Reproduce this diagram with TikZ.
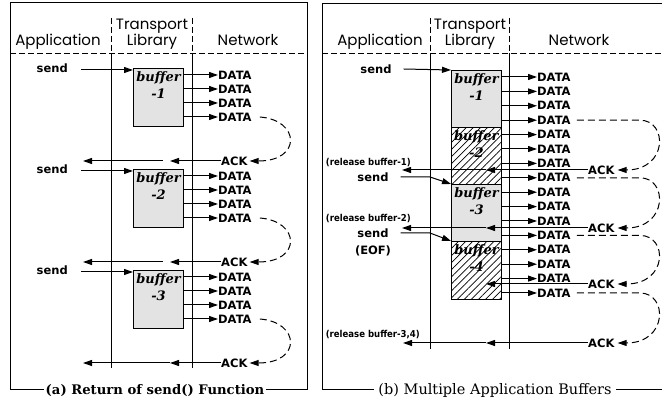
\documentclass[tikz,border=0pt]{standalone}
\usepackage{fontspec}
\usetikzlibrary{arrows.meta,patterns.meta,positioning}
\newfontfamily\hdrfont{Poppins}
\newfontfamily\lblfont{DejaVu Sans}
\newfontfamily\smallfont{DejaVu Sans Condensed}
\newfontfamily\capfont{DejaVu Serif}

\begin{document}
\begin{tikzpicture}[x=1pt,y=-1pt,
    hdr/.style={font=\hdrfont\fontsize{15}{15}\selectfont, inner sep=0pt, anchor=base},
    lbl/.style={font=\lblfont\bfseries\fontsize{11.5}{12}\selectfont, inner sep=0pt},
    rel/.style={font=\smallfont\bfseries\fontsize{9.5}{10}\selectfont, inner sep=0pt, anchor=east},
    buf/.style={draw, line width=1pt, fill=gray!22, minimum width=50pt, inner sep=0pt, anchor=north west},
    hbuf/.style={buf, pattern={Lines[angle=45,distance=5pt,line width=0.7pt]}},
    bufname/.style={font=\capfont\bfseries\itshape\fontsize{13}{17}\selectfont, align=center, inner sep=0pt},
    arr/.style={line width=1pt, -{Triangle[length=9pt,width=6pt]}},
    ret/.style={line width=1pt, dash pattern=on 7pt off 4pt, -{Triangle[length=9pt,width=6pt]}},
    divider/.style={line width=1pt},
    hdash/.style={line width=0.8pt, dash pattern=on 6pt off 3pt}
]
    \useasboundingbox (0,0) rectangle (662,403);

    % ---------------- (a) Return of send() Function ----------------
    % Frame and header
    \draw[line width=1pt] (10,3) rectangle (307,390);
    \node[hdr] (appA) at (58,46) {Application};
    \node[hdr] (trA) at (152,30) {Transport};
    \node[hdr] (libA) at (152,46) {Library};
    \node[hdr] (netA) at (248,46) {Network};
    \draw[hdash] (10,53) -- (307,53);
    \draw[hdash] (111,18) -- (111,53);
    \draw[hdash] (192,18) -- (192,53);
    \draw[divider] (111,53) -- (111,368);
    \draw[divider] (192,53) -- (192,368);

    % One buffer per send
    \foreach \i in {1,2,3}{
        \pgfmathsetmacro{\T}{68+101*(\i-1)}
        \pgfmathsetmacro{\gap}{\i==3 ? 0 : 7}
        \node[lbl, anchor=east] (sendA\i) at (68,\T) {send};
        \node[buf, minimum height=58pt] (bufA\i) at (133,\T) {};
        \node[bufname, below=3pt of bufA\i.north] {buffer\\-\i};
        \draw[arr] ([xshift=13pt,yshift=-2pt]sendA\i.east) -- ([yshift=-2pt]bufA\i.north west);
        % data packets
        \foreach \k in {1,...,4}{
            \node[lbl, anchor=west] (dA\i\k) at (218,\T+14*\k-7) {DATA};
            \draw[arr] (bufA\i.east |- dA\i\k.west) -- (dA\i\k.west);
        }
        % acknowledgement back to the application
        \node[lbl, anchor=west] (ackA\i) at (221,\T+93) {ACK};
        \draw[ret] ([xshift=8pt]dA\i4.east) .. controls (300,\T+52) and (302,\T+93) .. ([xshift=2pt]ackA\i.east);
        \coordinate (midA\i) at (170,\T+93);
        \coordinate (retA\i) at (83,\T+93);
        \draw[arr] (ackA\i.west) -- (midA\i);
        \draw[arr] ([xshift=-\gap pt]midA\i) -- (retA\i);
    }
    \node[font=\capfont\bfseries\fontsize{13.2}{13}\selectfont, fill=white, inner xsep=2pt, inner ysep=0pt] (capA) at (155,391) {(a) Return of send() Function};

    % ---------------- (b) Multiple Application Buffers ----------------
    % Frame and header
    \draw[line width=1pt] (662,4) -- (322,4) -- (322,390) -- (662,390);
    \node[hdr] (appB) at (380,46) {Application};
    \node[hdr] (trB) at (470,30) {Transport};
    \node[hdr] (libB) at (470,46) {Library};
    \node[hdr] (netB) at (579,46) {Network};
    \draw[hdash] (322,53) -- (662,53);
    \draw[hdash] (430,18) -- (430,53);
    \draw[hdash] (509,18) -- (509,53);
    \draw[divider] (430,53) -- (430,349);
    \draw[divider] (509,53) -- (509,349);

    % Buffers
    \node[buf, minimum height=57pt] (bufB1) at (451,70) {};
    \node[hbuf, minimum height=57pt] (bufB2) at (451,127) {};
    \node[buf, minimum height=57pt] (bufB3) at (451,184) {};
    \node[hbuf, minimum height=58pt] (bufB4) at (451,241) {};
    \foreach \j in {1,...,4}
        \node[bufname, below=3pt of bufB\j.north] {buffer\\-\j};

    % Sends
    \node[lbl] (sendB1) at (376,69) {send};
    \node[lbl] (sendB2) at (373,177) {send};
    \node[lbl] (sendB3) at (373,233) {send};
    \node[lbl] (eofB) at (373,251) {(EOF)};
    \draw[arr] ([xshift=12pt]sendB1.east) -- (bufB1.north west);
    \draw[arr] ([xshift=12pt]sendB2.east) -- (430,177) -- (bufB3.north west);
    \draw[arr] ([xshift=12pt]sendB3.east) -- (430,233) -- (bufB4.north west);

    % Data packets
    \foreach \k in {1,...,16}{
        \node[lbl, anchor=west] (dB\k) at (537,{77+14.4*(\k-1)}) {DATA};
        \draw[arr] (bufB1.east |- dB\k.west) -- (dB\k.west);
    }

    % Acknowledgements
    \foreach \m/\ya in {1/170,2/228,3/284,4/343}{
        \pgfmathtruncatemacro{\src}{4*\m}
        \node[lbl, anchor=west] (ackB\m) at (588,\ya) {ACK};
        \draw[ret] ([xshift=6pt]dB\src.east) -- (640,{77+14.4*(\src-1)}) .. controls (668,{77+14.4*(\src-1)}) and (668,\ya) .. ([xshift=3pt]ackB\m.east);
        \coordinate (midB\m) at (486,\ya);
        \draw[arr] (ackB\m.west) -- (midB\m);
    }
    \node[rel] (relB1) at (411,163) {(release buffer-1)};
    \node[rel] (relB2) at (411,219) {(release buffer-2)};
    \node[rel] (relB3) at (420,335) {(release buffer-3,4)};
    \draw[arr] (midB1) -- ([xshift=-9pt]relB1.east |- midB1);
    \draw[arr] (midB2) -- ([xshift=-9pt]relB2.east |- midB2);
    \draw[arr] (midB4) -- ([xshift=-17pt]relB3.east |- midB4);

    \node[font=\capfont\fontsize{14.5}{14}\selectfont, fill=white, inner xsep=4pt, inner ysep=0pt] (capB) at (495,391) {(b) Multiple Application Buffers};
\end{tikzpicture}
\end{document}
